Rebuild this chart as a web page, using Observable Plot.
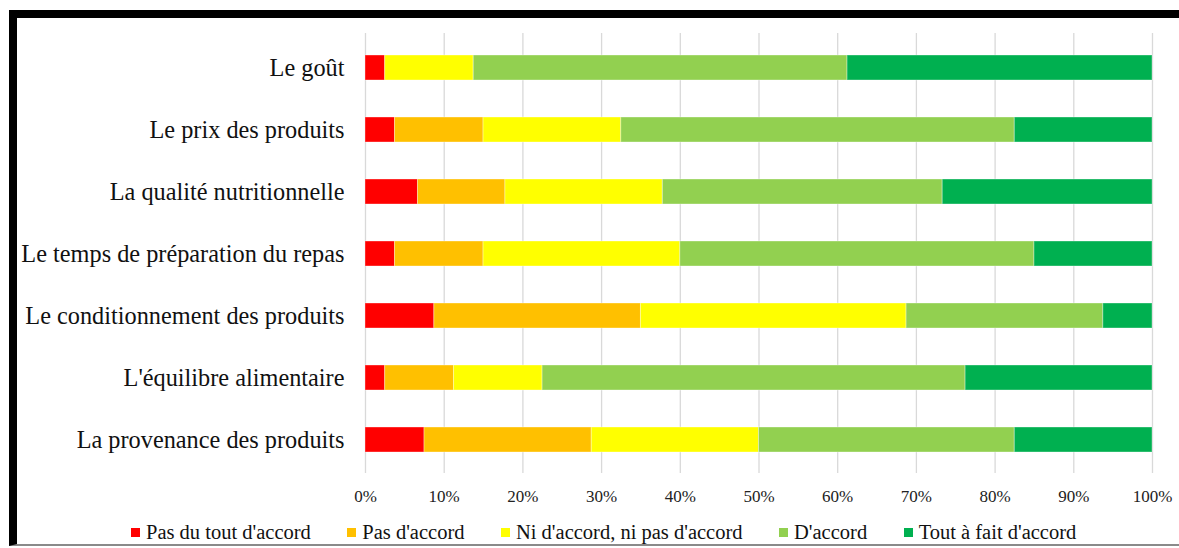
<!DOCTYPE html>
<html>
<head>
<meta charset="utf-8">
<script src="https://cdn.jsdelivr.net/npm/d3@7"></script>
<script src="https://cdn.jsdelivr.net/npm/@observablehq/plot@0.6"></script>
<style>
  html, body { margin: 0; padding: 0; background: #fff; width: 1179px; height: 548px; overflow: hidden; }
  #frame { position: absolute; left: 9px; top: 10px; width: 1300px; height: 526px;
           border-top: 8px solid #000; border-left: 8px solid #000; border-bottom: 2px solid #8a8a8a; }
  #chart { position: absolute; left: 0; top: 0; }
  #legend { position: absolute; left: 131px; top: 521px; display: flex; align-items: center;
            font-family: "Liberation Serif", "Times New Roman", serif; font-size: 20.5px; color: #111; }
  .item { display: flex; align-items: center; margin-right: 36.5px; white-space: nowrap; }
  .sw { width: 9px; height: 9px; margin-right: 6px; }
</style>
</head>
<body>
<div id="frame"></div>
<div id="chart"></div>
<div id="legend"></div>
<script>
const categories = [
  "Le goût",
  "Le prix des produits",
  "La qualité nutritionnelle",
  "Le temps de préparation du repas",
  "Le conditionnement des produits",
  "L'équilibre alimentaire",
  "La provenance des produits"
];
const seriesNames = [
  "Pas du tout d'accord",
  "Pas d'accord",
  "Ni d'accord, ni pas d'accord",
  "D'accord",
  "Tout à fait d'accord"
];
const seriesColors = ["#FF0000", "#FFC000", "#FFFF00", "#92D050", "#00B050"];
// percentages per category, in series order
const pasDuTout   = [2.5, 3.75, 6.67, 3.75, 8.75, 2.5, 7.5];
const pasDAccord  = [0, 11.25, 11.11, 11.25, 26.25, 8.75, 21.25];
const niNi        = [11.25, 17.5, 20, 25, 33.75, 11.25, 21.25];
const dAccord     = [47.5, 50, 35.56, 45, 25, 53.75, 32.5];
const toutAFait   = [38.75, 17.5, 26.67, 15, 6.25, 23.75, 17.5];
const xTicks = [0, 10, 20, 30, 40, 50, 60, 70, 80, 90, 100];

const seriesValues = [pasDuTout, pasDAccord, niNi, dAccord, toutAFait];
const data = [];
categories.forEach((c, i) => {
  seriesNames.forEach((s, j) => {
    data.push({category: c, series: s, value: seriesValues[j][i]});
  });
});

const chart = Plot.plot({
  width: 1179,
  height: 510,
  marginLeft: 365,
  marginRight: 27,
  marginTop: 33,
  marginBottom: 37,
  style: {fontFamily: "'Liberation Serif', 'Times New Roman', serif", background: "transparent", color: "#111"},
  x: {domain: [0, 100], ticks: xTicks, tickFormat: d => d + "%", label: null},
  y: {domain: categories, paddingInner: 0.6, paddingOuter: 0.3, label: null},
  color: {domain: seriesNames, range: seriesColors},
  marks: [
    Plot.gridX(xTicks, {stroke: "#d9d9d9", strokeOpacity: 1, strokeWidth: 1.3}),
    Plot.barX(data, Plot.stackX({
      x: "value", y: "category", fill: "series", order: seriesNames,
      stroke: "#ffffff", strokeOpacity: 0.35, strokeWidth: 1
    })),
    Plot.axisX(xTicks, {tickSize: 0, tickPadding: 16, fontSize: 17, tickFormat: d => d + "%", label: null, fill: "#222"}),
    Plot.axisY({tickSize: 0, tickPadding: 21, fontSize: 24.3, label: null, fill: "#111"})
  ]
});
document.getElementById("chart").appendChild(chart);

const legend = document.getElementById("legend");
seriesNames.forEach((s, j) => {
  const it = document.createElement("div");
  it.className = "item";
  const sw = document.createElement("div");
  sw.className = "sw";
  sw.style.background = seriesColors[j];
  const t = document.createElement("span");
  t.textContent = s;
  it.appendChild(sw);
  it.appendChild(t);
  legend.appendChild(it);
});
</script>
</body>
</html>
